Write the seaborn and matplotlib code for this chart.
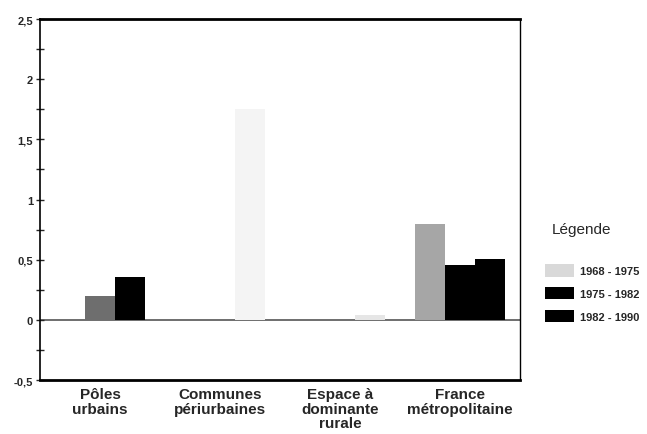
import pandas as pd
import seaborn as sns
import matplotlib.pyplot as plt
from matplotlib.ticker import MultipleLocator, FuncFormatter

zones = ["Pôles\nurbains", "Communes\npériurbaines", "Espace à\ndominante\nrurale", "France\nmétropolitaine"]
periods = ["1968 - 1975", "1975 - 1982", "1982 - 1990"]
v_1968_1975 = [0.0, 0.0, 0.0, 0.80]
v_1975_1982 = [0.20, 0.0, 0.0, 0.46]
v_1982_1990 = [0.36, 1.75, 0.04, 0.51]
colors = ["#a6a6a6", "#000000", "#000000"]

rows = []
for vals, p in zip([v_1968_1975, v_1975_1982, v_1982_1990], periods):
    for z, v in zip(zones, vals):
        rows.append({"zone": z, "period": p, "value": v})
df = pd.DataFrame(rows)

sns.set_style("ticks")
plt.rcParams['font.family'] = ['Liberation Sans', 'DejaVu Sans']
plt.rcParams['font.weight'] = 'bold'

fig = plt.figure(figsize=(6.47, 4.35), dpi=100)
ax = fig.add_axes([0.062, 0.124, 0.742, 0.830])

sns.barplot(data=df, x="zone", y="value", hue="period", order=zones, hue_order=periods,
            palette=colors, saturation=1, width=0.75, linewidth=0, errorbar=None, ax=ax)

# scan artefacts: the Pôles 1975-82 bar is speckled, the périurbain bar almost faded out
ax.containers[1][0].set_facecolor("#6e6e6e")
ax.containers[2][1].set_facecolor("#f4f4f4")
ax.containers[2][2].set_facecolor("#e6e6e6")

ax.axhline(0, color="#555555", lw=1.2, zorder=0.5)

ax.set_ylim(-0.5, 2.5)
ax.yaxis.set_major_locator(MultipleLocator(0.5))
ax.yaxis.set_minor_locator(MultipleLocator(0.25))
ax.yaxis.set_major_formatter(FuncFormatter(lambda v, p: f"{v:g}".replace(".", ",")))
ax.tick_params(axis="y", which="both", direction="inout", length=6, width=1, labelsize=8, pad=2)
ax.tick_params(axis="x", length=0, labelsize=11, pad=5)
for lab in ax.get_xticklabels():
    lab.set_linespacing(1.05)

for side in ["left", "right", "top", "bottom"]:
    ax.spines[side].set_visible(True)
    ax.spines[side].set_color("black")
ax.spines["left"].set_linewidth(1.2)
ax.spines["right"].set_linewidth(1.0)
ax.spines["top"].set_linewidth(2.0)
ax.spines["bottom"].set_linewidth(2.0)

ax.set_xlabel("")
ax.set_ylabel("")

handles, labels = ax.get_legend_handles_labels()
ax.get_legend().remove()
leg = fig.legend(handles, labels, loc="upper left", bbox_to_anchor=(0.835, 0.40),
                 frameon=False, fontsize=8, handlelength=2.6, handleheight=1.3,
                 handletextpad=0.6, labelspacing=0.95, borderaxespad=0)
leg.legend_handles[0].set_facecolor("#d9d9d9")
fig.text(0.853, 0.455, "Légende", fontsize=11, fontweight="normal", ha="left", va="bottom")

fig.savefig("out.png", dpi=100)
